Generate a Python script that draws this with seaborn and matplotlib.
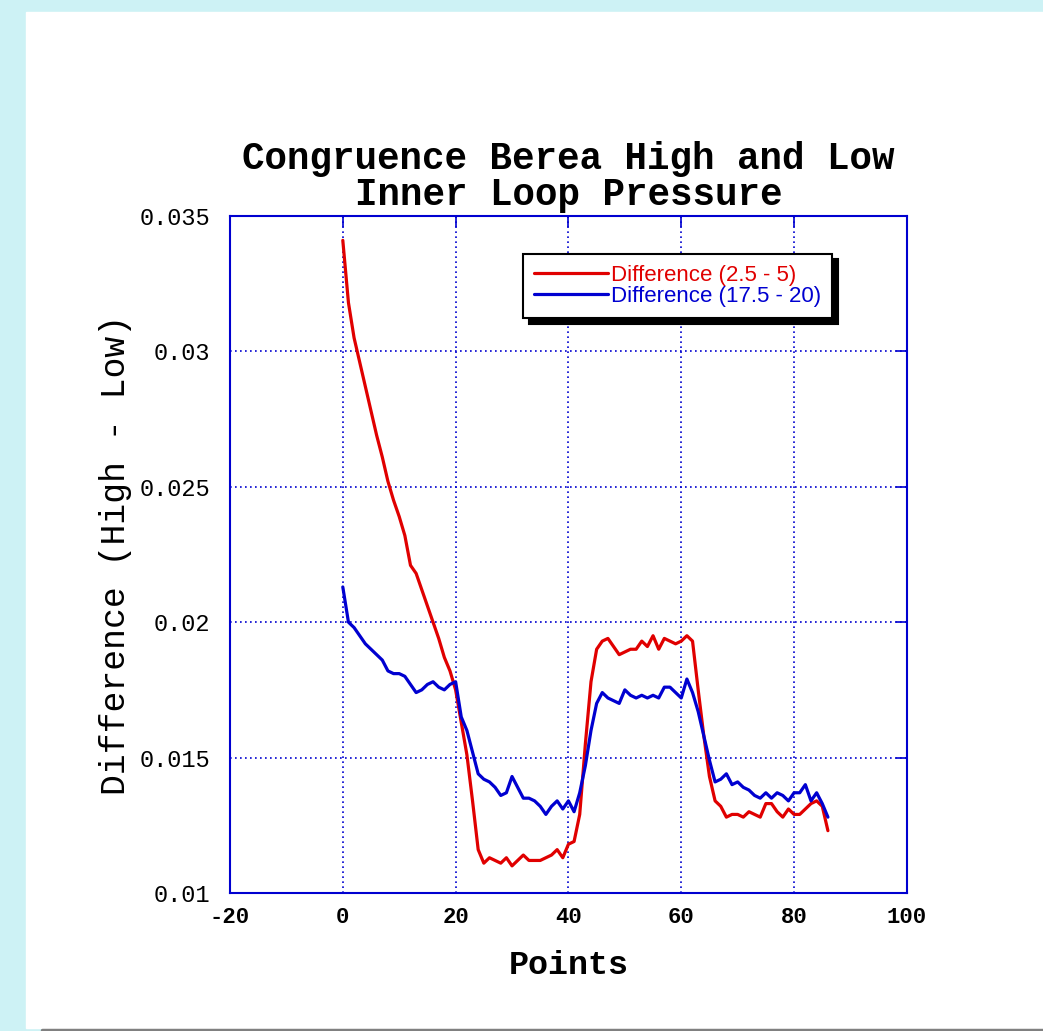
import seaborn as sns
import matplotlib.pyplot as plt
import pandas as pd
import numpy as np
from matplotlib.patches import Rectangle
from matplotlib.lines import Line2D

points = list(range(0, 87))

diff_low = [0.0341, 0.0318, 0.0305, 0.0296, 0.0287, 0.0278, 0.0269, 0.0261, 0.0252, 0.0245,
            0.0239, 0.0232, 0.0221, 0.0218, 0.0212, 0.0206, 0.0200, 0.0194, 0.0187, 0.0182,
            0.0175, 0.0163, 0.0151, 0.0134, 0.0116, 0.0111, 0.0113, 0.0112, 0.0111, 0.0113,
            0.0110, 0.0112, 0.0114, 0.0112, 0.0112, 0.0112, 0.0113, 0.0114, 0.0116, 0.0113,
            0.0118, 0.0119, 0.0129, 0.0155, 0.0178, 0.0190, 0.0193, 0.0194, 0.0191, 0.0188,
            0.0189, 0.0190, 0.0190, 0.0193, 0.0191, 0.0195, 0.0190, 0.0194, 0.0193, 0.0192,
            0.0193, 0.0195, 0.0193, 0.0175, 0.0158, 0.0143, 0.0134, 0.0132, 0.0128, 0.0129,
            0.0129, 0.0128, 0.0130, 0.0129, 0.0128, 0.0133, 0.0133, 0.0130, 0.0128, 0.0131,
            0.0129, 0.0129, 0.0131, 0.0133, 0.0134, 0.0132, 0.0123]

diff_high = [0.0213, 0.0200, 0.0198, 0.0195, 0.0192, 0.0190, 0.0188, 0.0186, 0.0182, 0.0181,
             0.0181, 0.0180, 0.0177, 0.0174, 0.0175, 0.0177, 0.0178, 0.0176, 0.0175, 0.0177,
             0.0178, 0.0165, 0.0160, 0.0152, 0.0144, 0.0142, 0.0141, 0.0139, 0.0136, 0.0137,
             0.0143, 0.0139, 0.0135, 0.0135, 0.0134, 0.0132, 0.0129, 0.0132, 0.0134, 0.0131,
             0.0134, 0.0130, 0.0137, 0.0147, 0.0160, 0.0170, 0.0174, 0.0172, 0.0171, 0.0170,
             0.0175, 0.0173, 0.0172, 0.0173, 0.0172, 0.0173, 0.0172, 0.0176, 0.0176, 0.0174,
             0.0172, 0.0179, 0.0174, 0.0167, 0.0158, 0.0149, 0.0141, 0.0142, 0.0144, 0.0140,
             0.0141, 0.0139, 0.0138, 0.0136, 0.0135, 0.0137, 0.0135, 0.0137, 0.0136, 0.0134,
             0.0137, 0.0137, 0.0140, 0.0134, 0.0137, 0.0133, 0.0128]

labels = ['Difference (2.5 - 5)', 'Difference (17.5 - 20)']
colors = ['#e00000', '#0000d0']

x_ticks = [-20, 0, 20, 40, 60, 80, 100]
y_ticks = [0.01, 0.015, 0.02, 0.025, 0.03, 0.035]

df = pd.DataFrame({
    'Points': points * 2,
    'Difference': diff_low + diff_high,
    'Series': [labels[0]] * len(points) + [labels[1]] * len(points),
})

sns.set_style('white')
mono = ['Liberation Mono', 'DejaVu Sans Mono']

fig = plt.figure(figsize=(10.43, 10.31), dpi=100, facecolor='#cdf2f5')
fig.add_artist(Rectangle((26 / 1043, 3 / 1031), 1 - 26 / 1043, 1016 / 1031,
                         transform=fig.transFigure, color='white', zorder=-1))
fig.add_artist(Line2D([42 / 1043, 1], [1.5 / 1031, 1.5 / 1031], transform=fig.transFigure,
                      color='#808080', lw=2.5))

ax = fig.add_axes([0.2205, 0.1339, 0.649, 0.6566])
sns.lineplot(data=df, x='Points', y='Difference', hue='Series', palette=colors,
             linewidth=2.3, ax=ax)

ax.set_xlim(-20, 100)
ax.set_ylim(0.01, 0.035)
ax.set_xticks(x_ticks)
ax.set_yticks(y_ticks)
ax.set_xticklabels([str(t) for t in x_ticks], family=mono, weight='bold', fontsize=16)
ax.set_yticklabels(['%g' % t for t in y_ticks], family=mono, fontsize=17)
ax.tick_params(direction='in', length=8, width=1.2, color='#0000d0',
               labelcolor='black', top=True, right=True)
ax.tick_params(axis='x', pad=10)
ax.tick_params(axis='y', pad=14)

ax.grid(True, color='#0000d0', linestyle=(0, (1, 2)), linewidth=1.2)
for sp in ax.spines.values():
    sp.set_color('#0000d0')
    sp.set_linewidth(1.5)

ax.set_title('Congruence Berea High and Low\nInner Loop Pressure', family=mono,
             weight='bold', fontsize=27, linespacing=1.0, pad=8, color='black')
ax.set_xlabel('Points', family=mono, weight='bold', fontsize=24, labelpad=16,
              color='black')
ax.set_ylabel('Difference (High - Low)', family=mono, fontsize=25, labelpad=6,
              color='black')

leg = ax.legend(loc='upper left', bbox_to_anchor=(0.433, 0.944), fancybox=False,
                shadow={'ox': 4, 'oy': -4, 'color': 'black', 'alpha': 1},
                edgecolor='black', framealpha=1, handlelength=3.3, handletextpad=0.15,
                borderpad=0.5, labelspacing=0.0, borderaxespad=0,
                prop={'family': ['Liberation Sans', 'DejaVu Sans'], 'size': 16})
leg.get_frame().set_linewidth(1.5)
for text, c in zip(leg.get_texts(), colors):
    text.set_color(c)

fig.savefig('out.png', dpi=100, facecolor=fig.get_facecolor())
